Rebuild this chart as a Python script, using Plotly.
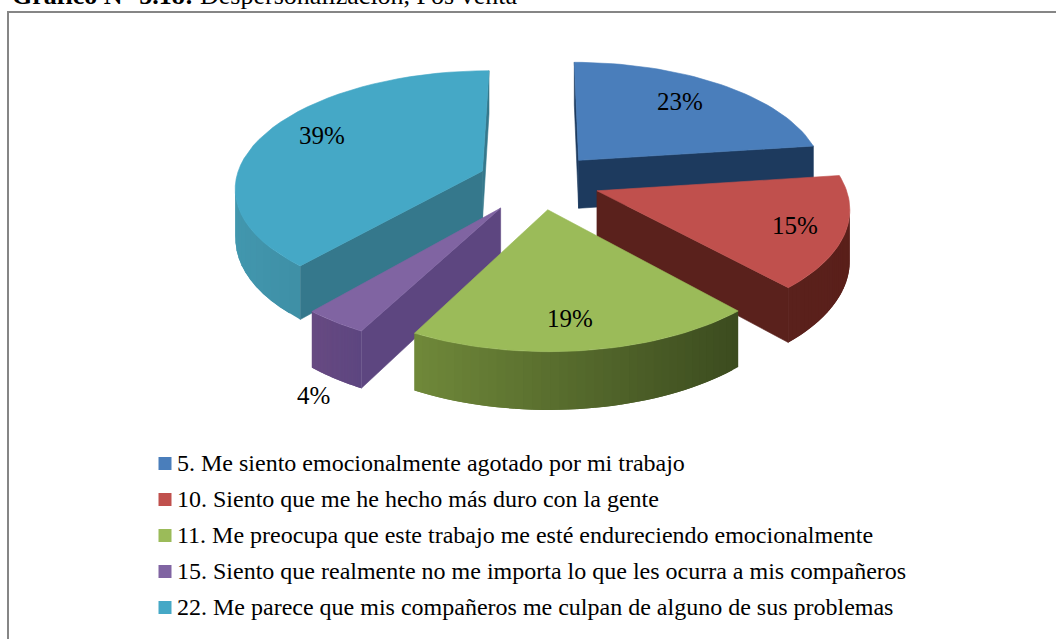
import numpy as np
import plotly.graph_objects as go

LABELS = [
    '5. Me siento emocionalmente agotado por mi trabajo',
    '10. Siento que me he hecho más duro con la gente',
    '11. Me preocupa que este trabajo me esté endureciendo emocionalmente',
    '15. Siento que realmente no me importa lo que les ocurra a mis compañeros',
    '22. Me parece que mis compañeros me culpan de alguno de sus problemas',
]
VALUES = [22.9, 15.4, 19.4, 3.6, 38.7]
EXPLODE = [60, 60, 60, 68, 62]

TOP_COLORS = ['#4a7ebb', '#c0504d', '#9bbb59', '#8064a2', '#45a8c6']
# wall colour at the left and right end of each outer wall
WALL_COLORS = [
    ('#1d3a5e', '#1d3a5e'),
    ('#5a211c', '#5a1f1a'),
    ('#70893a', '#3c4c1f'),
    ('#684a82', '#5d4680'),
    ('#4297ae', '#357a90'),
]
RADIAL_COLORS = ['#1d3a5e', '#5a211c', '#4a5f28', '#5d4680', '#35788c']
DRAW_ORDER = [4, 0, 1, 3, 2]

LABEL_POS = [(680, 101), (795, 225), (570, 318), (313, 395), (322, 135)]
LEGEND_X = 165
LEGEND_Y = [463.5, 499.5, 535.5, 571.5, 607.5]

# projection of the tilted pie onto the page
CX, CY = 540, 181
RADIUS = 247
TILT = 0.468
PERSP = 0.00052
DEPTH = 49


def project(x, y, z=0):
    w = 1 / (1 + PERSP * y)
    return CX + x * w, CY - TILT * y * w + z * w


def hex_mix(c1, c2, t):
    a = [int(c1[i:i + 2], 16) for i in (1, 3, 5)]
    b = [int(c2[i:i + 2], 16) for i in (1, 3, 5)]
    return 'rgb(%d,%d,%d)' % tuple(round(p + (q - p) * t) for p, q in zip(a, b))


def add_poly(fig, xs, ys, color, width=0.6):
    fig.add_trace(go.Scatter(
        x=list(xs) + [xs[0]], y=list(ys) + [ys[0]],
        mode='lines', fill='toself', fillcolor=color,
        line=dict(color=color, width=width),
        hoverinfo='skip', showlegend=False,
    ))


def add_quad(fig, p, q, color, width=0.6):
    # side face between two rim points, skipped when it faces away
    x0, y0 = project(*p)
    x1, y1 = project(*q)
    x2, y2 = project(*q, DEPTH)
    x3, y3 = project(*p, DEPTH)
    area = (x1 - x0) * (y2 - y0) - (x2 - x0) * (y1 - y0)
    if area <= 0:
        add_poly(fig, [x0, x1, x2, x3], [y0, y1, y2, y3], color, width)


def add_slice(fig, i, start, end):
    mid = np.radians((start + end) / 2)
    ax, ay = EXPLODE[i] * np.sin(mid), EXPLODE[i] * np.cos(mid)
    th = np.radians(np.linspace(start, end, 41))
    rim = [(ax + RADIUS * np.sin(t), ay + RADIUS * np.cos(t)) for t in th]

    # radial walls
    add_quad(fig, (ax, ay), rim[0], RADIAL_COLORS[i])
    add_quad(fig, rim[-1], (ax, ay), RADIAL_COLORS[i])

    # outer wall, shaded left to right, strips overlap so no seams show
    left, right = WALL_COLORS[i]
    xs = [project(*p)[0] for p in rim]
    lo, hi = min(xs), max(xs)
    for j in range(len(rim) - 1):
        t = (xs[j] - lo) / (hi - lo)
        add_quad(fig, rim[j], rim[min(j + 2, len(rim) - 1)], hex_mix(left, right, t), 0)

    # top face
    pts = [project(ax, ay)] + [project(*p) for p in rim]
    add_poly(fig, [p[0] for p in pts], [p[1] for p in pts], TOP_COLORS[i])


fig = go.Figure()

edges = np.cumsum([0] + VALUES) / sum(VALUES) * 360
for i in DRAW_ORDER:
    add_slice(fig, i, edges[i], edges[i + 1])

fig.add_trace(go.Scatter(
    x=[LEGEND_X] * len(LABELS), y=LEGEND_Y,
    mode='markers',
    marker=dict(symbol='square', size=13, color=TOP_COLORS),
    text=LABELS, hovertemplate='%{text}<extra></extra>',
    showlegend=False,
))

annotations = []
for i, v in enumerate(VALUES):
    annotations.append(dict(
        x=LABEL_POS[i][0], y=LABEL_POS[i][1], text=f'{round(v)}%',
        showarrow=False, font=dict(size=25, color='black'),
    ))
for label, y in zip(LABELS, LEGEND_Y):
    annotations.append(dict(
        x=175, y=y - 1, text=label, xanchor='left',
        showarrow=False, font=dict(size=24, color='black'),
    ))
# caption above the frame, cut by the top of the page in the source
annotations.append(dict(
    xref='paper', yref='paper', x=10 / 1056, y=1 + 4 / 639,
    text='<b>Gráfico N° 5.18:</b> Despersonalización, Pos venta',
    xanchor='left', yanchor='middle', showarrow=False,
    font=dict(size=26, color='black'),
))

fig.update_layout(
    width=1056, height=639,
    margin=dict(l=0, r=0, t=0, b=0),
    paper_bgcolor='white', plot_bgcolor='white',
    font=dict(family='Liberation Serif'),
    showlegend=False,
    xaxis=dict(range=[0, 1056], visible=False, fixedrange=True),
    yaxis=dict(range=[639, 0], visible=False, fixedrange=True),
    annotations=annotations,
    shapes=[dict(
        type='rect', x0=8, y0=12, x1=1080, y1=660,
        line=dict(color='#868686', width=2),
    )],
)

fig.write_html('out.html', config={'displayModeBar': False},
               post_script="document.body.style.margin='0';")
